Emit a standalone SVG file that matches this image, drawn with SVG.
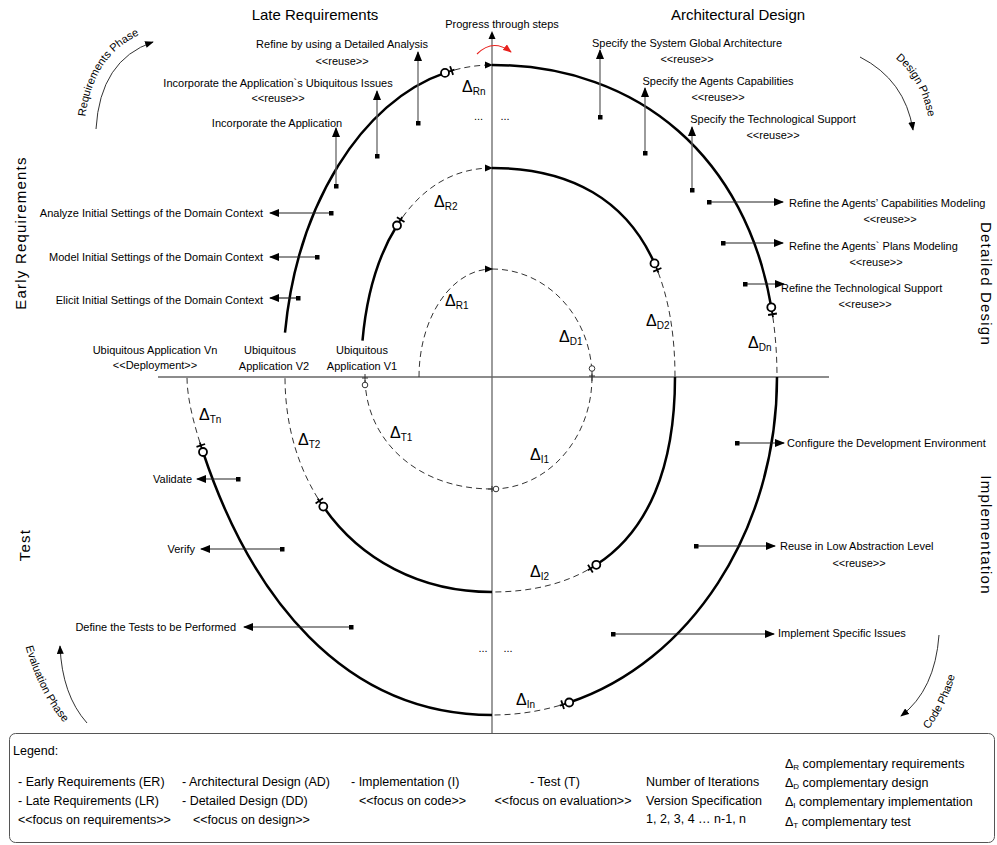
<svg xmlns="http://www.w3.org/2000/svg" width="997" height="845" viewBox="0 0 997 845">
<defs>
<style>
.t{font-family:"Liberation Sans",Arial,sans-serif;font-size:11px;fill:#000}
.m{text-anchor:middle}
.e{text-anchor:end}
.h{font-size:15px}
.v{font-size:15px;letter-spacing:1.2px}
.lg{font-size:12.5px}
.d{font-size:16px}
.sub{font-size:10px}
.axis{stroke:#666;stroke-width:1.3;fill:none}
.sol{stroke:#000;stroke-width:2.5;fill:none}
.dash{stroke:#333;stroke-width:1;fill:none;stroke-dasharray:6 4}
.av{stroke:#666;stroke-width:1.3;fill:none;marker-start:url(#sq);marker-end:url(#ah)}
.ah{stroke:#222;stroke-width:1.2;fill:none;marker-start:url(#sq);marker-end:url(#ah)}
.mk{fill:#fff;stroke:#000;stroke-width:1.8}
.tk{stroke:#000;stroke-width:1.8;fill:none}
.smk{fill:#fff;stroke:#333;stroke-width:1}
.stk{stroke:#333;stroke-width:1;fill:none}
.ph{stroke:#333;stroke-width:1;fill:none;marker-end:url(#ahs)}
.head{fill:#000}
</style>
<marker id="ah" viewBox="0 0 10 8" refX="9" refY="4" markerWidth="10" markerHeight="8" orient="auto" markerUnits="userSpaceOnUse"><path d="M0,0 L10,4 L0,8 z" fill="#000"/></marker>
<marker id="ahs" viewBox="0 0 10 8" refX="9" refY="4" markerWidth="9" markerHeight="7" orient="auto" markerUnits="userSpaceOnUse"><path d="M0,0 L10,4 L0,8 z" fill="#000"/></marker>
<marker id="ahr" viewBox="0 0 10 8" refX="9" refY="4" markerWidth="9" markerHeight="7" orient="auto" markerUnits="userSpaceOnUse"><path d="M0,0 L10,4 L0,8 z" fill="#e8211d"/></marker>
<marker id="sq" viewBox="0 0 5 5" refX="2.5" refY="2.5" markerWidth="5" markerHeight="5" markerUnits="userSpaceOnUse"><rect width="5" height="5" fill="#000"/></marker>
<path id="pReq" d="M84,128 Q90,50 150,31"/>
<path id="pDes" d="M876,46 Q927,70 931,140"/>
<path id="pEva" d="M20,625 Q38,705 80,738"/>
<path id="pCod" d="M910,748 Q952,712 960,650"/>
</defs>
<rect width="997" height="845" fill="#fff"/>

<g id="axes">
<path class="axis" d="M158,377 L829,377"/>
<path class="axis" d="M492,733 L492,38"/>
<polygon class="head" points="492,31 488.5,39 495.5,39"/>
</g>

<g id="titles">
<text class="t h m" x="315" y="20">Late Requirements</text>
<text class="t h m" x="738" y="20">Architectural Design</text>
<text class="t v m" transform="translate(26,233) rotate(-90)">Early Requirements</text>
<text class="t v m" transform="translate(30,545) rotate(-90)">Test</text>
<text class="t v m" transform="translate(981,284) rotate(90)">Detailed Design</text>
<text class="t v m" transform="translate(981,535) rotate(90)">Implementation</text>
</g>

<g id="phases">
<path class="ph" d="M96,129 Q100,60 153,42"/>
<text class="t" font-size="11.5"><textPath href="#pReq" startOffset="50%" text-anchor="middle">Requirements Phase</textPath></text>
<path class="ph" d="M860,57 Q905,80 913,130"/>
<text class="t" font-size="11.5"><textPath href="#pDes" startOffset="50%" text-anchor="middle">Design Phase</textPath></text>
<path class="ph" d="M87,723 Q62,695 60,646"/>
<text class="t" font-size="11.5"><textPath href="#pEva" startOffset="50%" text-anchor="middle">Evaluation Phase</textPath></text>
<path class="ph" d="M939,635 Q935,690 901,716"/>
<text class="t" font-size="11.5"><textPath href="#pCod" startOffset="50%" text-anchor="middle">Code Phase</textPath></text>
</g>

<g id="progress">
<text class="t m" x="502" y="28">Progress through steps</text>
<path d="M477,54 Q493,38 511,52" fill="none" stroke="#e8211d" stroke-width="1.1" marker-end="url(#ahr)"/>
</g>

<g id="spiral">
<path class="dash" d="M419,377 C419,317.4 451.7,269 492,269"/>
<path class="dash" d="M492,269 C547.2,269 592,317.4 592,377"/>
<path class="dash" d="M592,377 C592,438.9 547.2,489 492,489"/>
<path class="dash" d="M492,489 C415.8,489 365,438.6 365,377"/>
<path class="sol" d="M362.5,340.7 C366.6,294 378.7,254.7 397,225.5"/>
<path class="dash" d="M397,225.5 C420,188.9 452.7,168 492,168"/>
<path class="sol" d="M492,168 C571.7,168 626.8,200.9 654.5,263.4"/>
<path class="dash" d="M654.5,263.4 C668,294.2 675,332.2 675,377"/>
<path class="sol" d="M675,377 C675,467.8 647.9,531.4 596.3,564.8"/>
<path class="dash" d="M596.3,564.8 C568.5,582.8 533.6,592 492,592"/>
<path class="sol" d="M492,592 C420,592 359.9,559.5 323.3,506.6"/>
<path class="dash" d="M323.3,506.6 C298.9,471.3 285,426.9 285,377"/>
<path class="sol" d="M285,332.6 C297.1,204.9 361.5,101.6 445,72.9"/>
<path class="dash" d="M445,72.9 C460.1,67.7 475.8,65 492,65"/>
<path class="sol" d="M492,65 C640.8,65 746.4,159.5 771.3,307.3"/>
<path class="dash" d="M771.3,307.3 C775.1,329.4 777,352.7 777,377"/>
<path class="sol" d="M777,377 C777,532 689.1,662.5 569.2,702.5"/>
<path class="dash" d="M569.2,702.5 C544.7,710.6 518.8,715 492,715"/>
<path class="sol" d="M492,715 C342,715 250.4,594.4 203,452"/>
<path class="dash" d="M203,452 C195.1,428.3 187,400 187,377"/>
<polygon class="head" points="485,265.5 493,269 485,272.5"/>
<polygon class="head" points="485,164.5 493,168 485,171.5"/>
<polygon class="head" points="485,61.5 493,65 485,68.5"/>
</g>

<g id="markers">
<path class="stk" d="M592,371 L592,381 M589,376 L595,376"/>
<circle class="smk" cx="592" cy="368.5" r="2.8"/>
<path class="stk" d="M493,489 L488,489 M492,486 L492,492"/>
<circle class="smk" cx="496" cy="489" r="2.8"/>
<path class="stk" d="M365,382 L365,374 M362,378 L368,378"/>
<circle class="smk" cx="365" cy="385" r="2.8"/>
<path class="tk" d="M445,72.9 L454.5,69.7 M453.1,74.9 L450.1,66.3"/>
<circle class="mk" cx="445" cy="72.9" r="4"/>
<path class="tk" d="M397,225.5 L402.3,217 M404.5,222 L396.9,217.2"/>
<circle class="mk" cx="397" cy="225.5" r="4"/>
<path class="tk" d="M654.5,263.4 L658.5,272.6 M661.4,268 L653.2,271.6"/>
<circle class="mk" cx="654.5" cy="263.4" r="4"/>
<path class="tk" d="M771.3,307.3 L773,317.2 M776.9,313.5 L768.1,315"/>
<circle class="mk" cx="771.3" cy="307.3" r="4"/>
<path class="tk" d="M569.2,702.5 L559.7,705.7 M564,709 L561.2,700.4"/>
<circle class="mk" cx="569.2" cy="702.5" r="4"/>
<path class="tk" d="M596.3,564.8 L587.9,570.2 M592.8,572.4 L588,564.8"/>
<circle class="mk" cx="596.3" cy="564.8" r="4"/>
<path class="tk" d="M323.3,506.6 L317.6,498.4 M323,498.2 L315.6,503.4"/>
<circle class="mk" cx="323.3" cy="506.6" r="4"/>
<path class="tk" d="M203,452 L199.8,442.5 M205.1,444 L196.5,446.8"/>
<circle class="mk" cx="203" cy="452" r="4"/>
</g>

<g id="deltas">
<text class="t d" x="462" y="92">Δ<tspan class="sub" dy="3">Rn</tspan></text>
<text class="t d" x="434" y="207">Δ<tspan class="sub" dy="3">R2</tspan></text>
<text class="t d" x="445" y="306">Δ<tspan class="sub" dy="3">R1</tspan></text>
<text class="t d" x="559" y="342">Δ<tspan class="sub" dy="3">D1</tspan></text>
<text class="t d" x="646" y="326">Δ<tspan class="sub" dy="3">D2</tspan></text>
<text class="t d" x="748" y="348">Δ<tspan class="sub" dy="3">Dn</tspan></text>
<text class="t d" x="530" y="460">Δ<tspan class="sub" dy="3">I1</tspan></text>
<text class="t d" x="530" y="577">Δ<tspan class="sub" dy="3">I2</tspan></text>
<text class="t d" x="516" y="705">Δ<tspan class="sub" dy="3">In</tspan></text>
<text class="t d" x="390" y="438">Δ<tspan class="sub" dy="3">T1</tspan></text>
<text class="t d" x="298" y="445">Δ<tspan class="sub" dy="3">T2</tspan></text>
<text class="t d" x="199" y="420">Δ<tspan class="sub" dy="3">Tn</tspan></text>
<text class="t m" x="478.5" y="120">...</text>
<text class="t m" x="505" y="120">...</text>
<text class="t m" x="483" y="652">...</text>
<text class="t m" x="508" y="652">...</text>
</g>

<g id="connectors">
<path class="av" d="M418,123 L418,52"/>
<path class="av" d="M377,156 L377,91"/>
<path class="av" d="M336,186 L336,128"/>
<path class="av" d="M600,117 L600,50"/>
<path class="av" d="M645,153 L645,88"/>
<path class="av" d="M692,190 L692,127"/>
<path class="ah" d="M331,213 L270,213"/>
<path class="ah" d="M317,257 L270,257"/>
<path class="ah" d="M298,298 L270,298"/>
<path class="ah" d="M238,479 L197,479"/>
<path class="ah" d="M282,549 L201,549"/>
<path class="ah" d="M351,627 L244,627"/>
<path class="ah" d="M709,202 L783,202"/>
<path class="ah" d="M723,243 L783,243"/>
<path class="ah" d="M745,284 L784,284"/>
<path class="ah" d="M737,443 L784,443"/>
<path class="ah" d="M696,546 L775,546"/>
<path class="ah" d="M613,634 L774,634"/>
</g>

<g id="lr-refine"><text class="t m" x="342" y="48">Refine by using a Detailed Analysis</text><text class="t m" x="342" y="65">&lt;&lt;reuse&gt;&gt;</text></g>
<g id="lr-ubiq"><text class="t m" x="278" y="87">Incorporate the Application`s Ubiquitous Issues</text><text class="t m" x="278" y="102">&lt;&lt;reuse&gt;&gt;</text></g>
<g id="lr-incorp"><text class="t m" x="277" y="127">Incorporate the Application</text></g>
<g id="ad-global"><text class="t m" x="687" y="47">Specify the System Global Architecture</text><text class="t m" x="687" y="63">&lt;&lt;reuse&gt;&gt;</text></g>
<g id="ad-agents"><text class="t m" x="718" y="85">Specify the Agents Capabilities</text><text class="t m" x="718" y="101">&lt;&lt;reuse&gt;&gt;</text></g>
<g id="ad-tech"><text class="t m" x="773" y="123">Specify the Technological Support</text><text class="t m" x="773" y="139">&lt;&lt;reuse&gt;&gt;</text></g>
<g id="er-analyze"><text class="t e" x="263" y="217">Analyze Initial Settings of the Domain Context</text></g>
<g id="er-model"><text class="t e" x="263" y="261">Model Initial Settings of the Domain Context</text></g>
<g id="er-elicit"><text class="t e" x="263" y="304">Elicit Initial Settings of the Domain Context</text></g>
<g id="dd-cap"><text class="t" x="789" y="207">Refine the Agents’ Capabilities Modeling</text><text class="t m" x="890" y="223">&lt;&lt;reuse&gt;&gt;</text></g>
<g id="dd-plans"><text class="t" x="789" y="250">Refine the Agents` Plans Modeling</text><text class="t m" x="876" y="266">&lt;&lt;reuse&gt;&gt;</text></g>
<g id="dd-tech"><text class="t" x="781" y="292">Refine the Technological Support</text><text class="t m" x="865" y="308">&lt;&lt;reuse&gt;&gt;</text></g>
<g id="im-config"><text class="t" x="787" y="447">Configure the Development Environment</text></g>
<g id="im-reuse"><text class="t" x="780" y="550">Reuse in Low Abstraction Level</text><text class="t m" x="859" y="567">&lt;&lt;reuse&gt;&gt;</text></g>
<g id="im-specific"><text class="t" x="778" y="637">Implement Specific Issues</text></g>
<g id="t-validate"><text class="t e" x="192" y="483">Validate</text></g>
<g id="t-verify"><text class="t e" x="195" y="553">Verify</text></g>
<g id="t-define"><text class="t e" x="236" y="631">Define the Tests to be Performed</text></g>
<g id="v-n"><text class="t m" x="155" y="354">Ubiquitous Application Vn</text><text class="t m" x="155" y="369">&lt;&lt;Deployment&gt;&gt;</text></g>
<g id="v-2"><text class="t m" x="270" y="354">Ubiquitous</text><text class="t m" x="274" y="370">Application V2</text></g>
<g id="v-1"><text class="t m" x="362" y="354">Ubiquitous</text><text class="t m" x="362" y="370">Application V1</text></g>

<g id="legend">
<rect x="9.5" y="733.5" width="985" height="109" rx="6" fill="none" stroke="#555" stroke-width="1"/>
<text class="t lg" x="13" y="755">Legend:</text>
<text class="t lg" x="18" y="786">- Early Requirements (ER)</text>
<text class="t lg" x="18" y="805">- Late Requirements (LR)</text>
<text class="t lg" x="18" y="824">&lt;&lt;focus on requirements&gt;&gt;</text>
<text class="t lg" x="182" y="786">- Architectural Design (AD)</text>
<text class="t lg" x="182" y="805">- Detailed Design (DD)</text>
<text class="t lg" x="193" y="824">&lt;&lt;focus on design&gt;&gt;</text>
<text class="t lg" x="351" y="786">- Implementation (I)</text>
<text class="t lg" x="359" y="805">&lt;&lt;focus on code&gt;&gt;</text>
<text class="t lg m" x="555" y="786">- Test (T)</text>
<text class="t lg m" x="563" y="805">&lt;&lt;focus on evaluation&gt;&gt;</text>
<text class="t lg" x="646" y="786">Number of Iterations</text>
<text class="t lg" x="646" y="805">Version Specification</text>
<text class="t lg" x="646" y="823">1, 2, 3, 4 … n-1, n</text>
<text class="t lg" x="785" y="768" font-size="13">Δ<tspan font-size="8" dy="2">R</tspan><tspan dy="-2"> complementary requirements</tspan></text>
<text class="t lg" x="785" y="787" font-size="13">Δ<tspan font-size="8" dy="2">D</tspan><tspan dy="-2"> complementary design</tspan></text>
<text class="t lg" x="785" y="806" font-size="13">Δ<tspan font-size="8" dy="2">I</tspan><tspan dy="-2"> complementary implementation</tspan></text>
<text class="t lg" x="785" y="826" font-size="13">Δ<tspan font-size="8" dy="2">T</tspan><tspan dy="-2"> complementary test</tspan></text>
</g>
</svg>
